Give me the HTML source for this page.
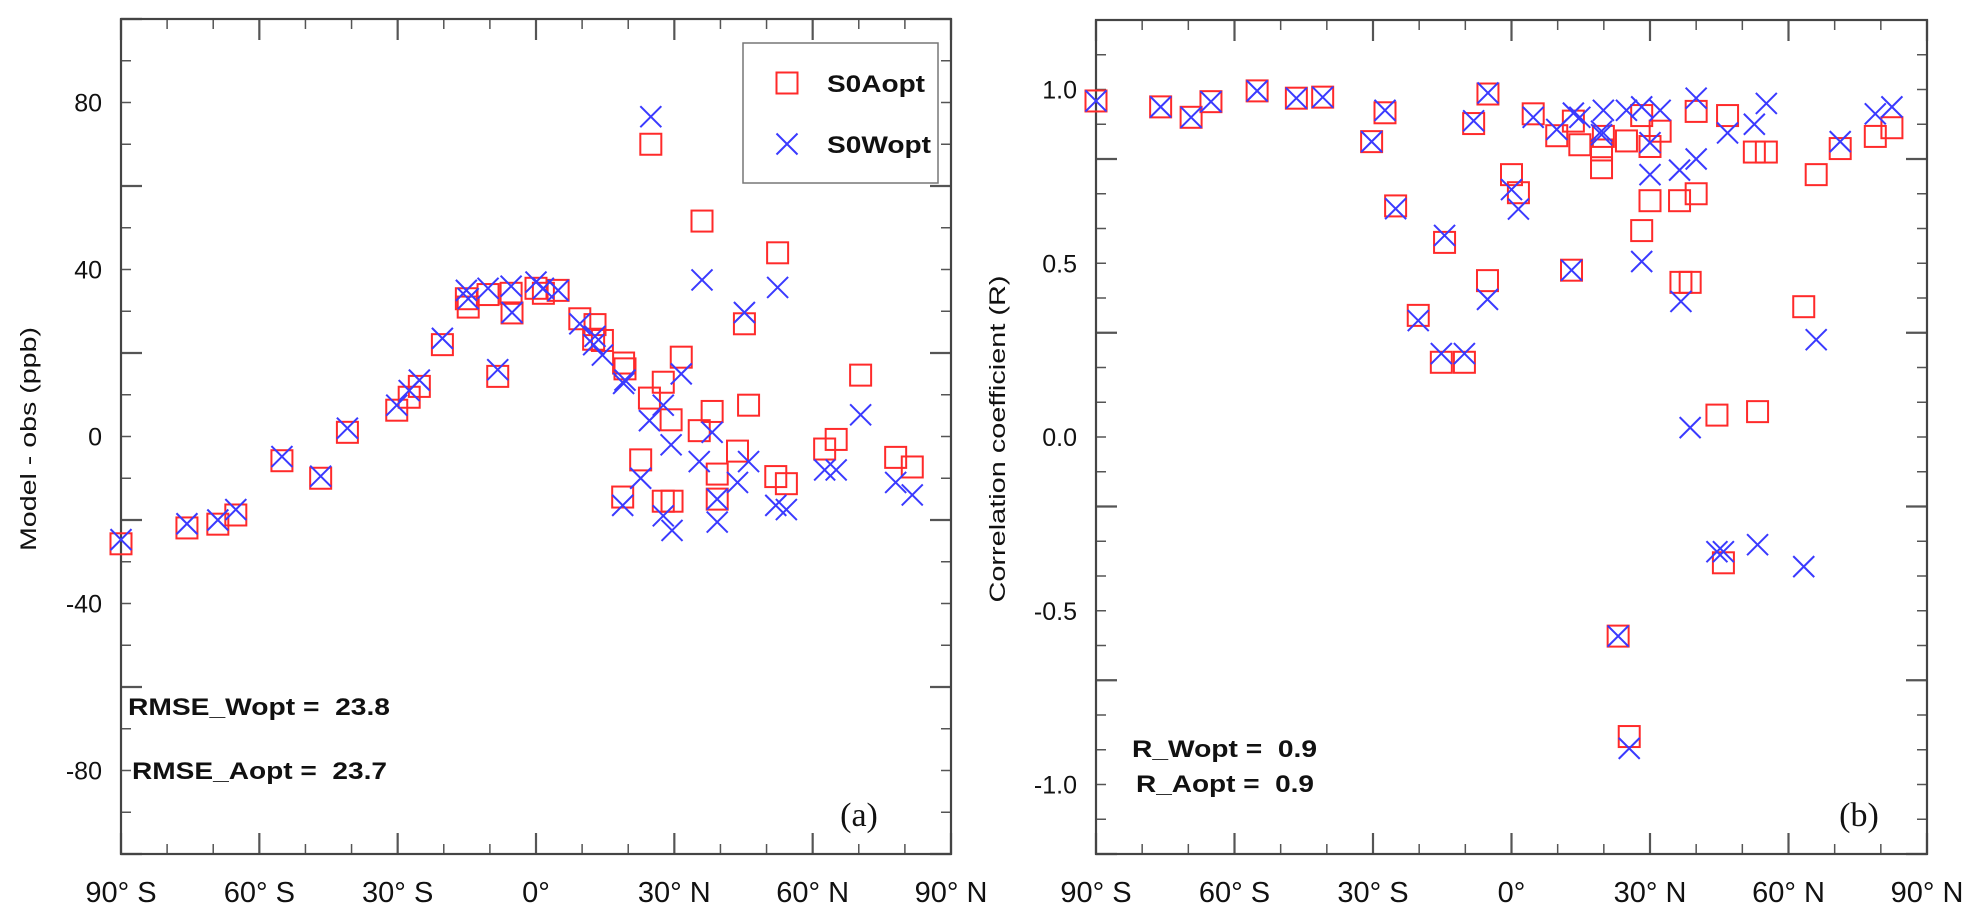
<!DOCTYPE html>
<html><head><meta charset="utf-8"><style>
html,body{margin:0;padding:0;background:#fff;}
svg{display:block;font-family:"Liberation Sans",Arial,sans-serif;}
svg text{white-space:pre;}
</style></head><body>
<svg id="chart" width="1970" height="924" viewBox="0 0 1970 924" xmlns="http://www.w3.org/2000/svg"></svg>
<script>
// Panel (a) data: latitude, S0Aopt, S0Wopt (Model - obs, ppb)
const latA = [-90,-75.7,-69,-65.1,-55.1,-46.7,-40.9,-30.2,-27.5,-25.3,-20.3,-15.1,-14.7,-10.4,-8.3,-5.4,-5.2,0,1.6,4.8,9.5,12.8,12.5,14.4,19,19.3,18.8,22.7,24.6,24.9,27.6,27.6,29.3,29.5,31.5,35.4,36,38.2,39.3,39.3,43.7,45.2,46.1,52,52.4,54.3,62.6,65.1,70.4,78,81.6];
const aoptA = [-25.7,-21.9,-21,-18.8,-5.8,-10,1,6.3,9.4,12,22,33,31,34,14.4,34.3,29.6,35.5,34.3,35,28.2,26.8,23.3,23,17.6,16.2,-14.5,-5.6,9.2,70,13,-15.5,4,-15.5,19,1.4,51.6,6,-9,-15,-3.5,27,7.5,-9.6,44,-11.3,-3,-0.7,14.7,-5,-7.3];
const woptA = [-24.7,-20.9,-20,-17.5,-4.8,-9.5,2,7.5,11,13.5,23.5,35,33,35.5,16,36,29.7,37,35.5,35,27,24,22,19.5,12.7,13.5,-16.5,-10,3.8,76.6,7.5,-19,-2,-22.5,15,-6,37.5,1,-15,-20.5,-11,29.7,-6,-16.5,35.7,-17.5,-8,-8,5.2,-11,-14];
// Panel (b) data: latitude, S0Aopt, S0Wopt (correlation R)
const latB = [-90,-76,-69.4,-65.1,-55.1,-46.6,-40.9,-30.3,-27.4,-25.1,-20.2,-14.5,-15.2,-10.2,-8.2,-5.2,-5.1,0,1.5,4.7,9.8,13.4,14.8,13,19.9,19.5,19.5,24.9,28.2,30,32.2,30,28.2,36.4,40,40,46.8,52.6,55.2,66,71.2,78.8,82.4,36.7,38.7,63.3,44.5,53.3,45.9,23.1,25.5];
const aoptB = [0.967,0.95,0.92,0.965,0.996,0.975,0.978,0.85,0.933,0.665,0.35,0.56,0.215,0.215,0.902,0.45,0.987,0.755,0.703,0.93,0.867,0.909,0.841,0.48,0.865,0.826,0.775,0.852,0.925,0.836,0.88,0.68,0.594,0.68,0.70,0.937,0.925,0.82,0.82,0.755,0.83,0.865,0.89,0.445,0.445,0.375,0.063,0.073,-0.362,-0.573,-0.862];
const woptB = [0.967,0.95,0.92,0.965,0.996,0.975,0.978,0.85,0.94,0.657,0.335,0.58,0.24,0.24,0.91,0.396,0.99,0.712,0.656,0.92,0.885,0.932,0.92,0.48,0.94,0.88,0.87,0.94,0.95,0.847,0.94,0.755,0.505,0.768,0.80,0.975,0.875,0.9,0.96,0.28,0.85,0.93,0.95,0.39,0.027,-0.373,-0.33,-0.31,-0.33,-0.573,-0.896];
const xTickLabels = ["90° S","60° S","30° S","0°","30° N","60° N","90° N"];
const yTicksA = [80,40,0,-40,-80];
const yTicksB = [1.0,0.5,0.0,-0.5,-1.0];

const NS="http://www.w3.org/2000/svg";
const svg=document.getElementById('chart');
function mk(tag,attrs,parent){const e=document.createElementNS(NS,tag);for(const k in attrs)e.setAttribute(k,attrs[k]);(parent||svg).appendChild(e);return e;}

function panel(cfg){
  const g=mk('g',{});
  
  
  const {L,R,T,B,ymin,ymax}=cfg;
  const sx=v=>L+(v+90)/180*(R-L);
  const sy=v=>B-(v-ymin)/(ymax-ymin)*(B-T);
  for(let d=-90;d<=90;d+=10){
    const maj=(d%30===0), len=maj?21:10, x=sx(d);
    const t1=mk('line',{x1:x,y1:B,x2:x,y2:B-len,stroke:'#555','stroke-width':maj?2.2:1.5},g);
    
    const t2=mk('line',{x1:x,y1:T,x2:x,y2:T+len,stroke:'#555','stroke-width':maj?2.2:1.5},g);
    
  }
  for(let i=0;;i++){
    const v=ymin+i*cfg.minor; if(v>ymax+1e-9)break;
    const r=(v-ymin)/cfg.major; const maj=Math.abs(r-Math.round(r))<1e-6;
    const len=maj?21:10, y=sy(v);
    const t1=mk('line',{x1:L,y1:y,x2:L+len,y2:y,stroke:'#555','stroke-width':maj?2.2:1.5},g);
    
    const t2=mk('line',{x1:R,y1:y,x2:R-len,y2:y,stroke:'#555','stroke-width':maj?2.2:1.5},g);
    
  }
  const fr=mk('rect',{x:L,y:T,width:R-L,height:B-T,fill:'none',stroke:'#444','stroke-width':2.2},g);
  
  xTickLabels.forEach((s,i)=>{
    const t=mk('text',{x:sx(-90+30*i),y:902,'text-anchor':'middle','font-size':29,fill:'#111'},g);
    t.textContent=s;
    
  });
  cfg.yt.forEach(v=>{
    const t=mk('text',{x:cfg.ylabX,y:sy(v)+9,'text-anchor':'end','font-size':25,fill:'#111'},g);
    t.textContent=cfg.fmt(v);
    
  });
  const yt=mk('text',{x:0,y:0,'text-anchor':'middle','font-size':22,fill:'#111',transform:`translate(${cfg.titleX},439) rotate(-90)`,textLength:cfg.titleLen,lengthAdjust:'spacingAndGlyphs'},g);
  yt.textContent=cfg.title;
  
  cfg.lat.forEach((la,i)=>{
    const x=sx(la),y=sy(cfg.a[i]);
    const s=mk('rect',{x:x-10.5,y:y-10.5,width:21,height:21,fill:'none',stroke:'#ff2a2a','stroke-width':2},g);
    
  });
  cfg.lat.forEach((la,i)=>{
    const x=sx(la),y=sy(cfg.w[i]);
    const p=mk('path',{d:`M${x-10.5},${y-10.5}L${x+10.5},${y+10.5}M${x-10.5},${y+10.5}L${x+10.5},${y-10.5}`,stroke:'#3a3aff','stroke-width':2,fill:'none'},g);
    
  });
  return g;
}
panel({name:'panel-a',L:121,R:951,T:19,B:854,ymin:-100,ymax:100,minor:10,major:40,yt:yTicksA,fmt:v=>String(v),ylabX:102,
  title:'Model - obs (ppb)',titleX:36,titleLen:224,lat:latA,a:aoptA,w:woptA});
panel({name:'panel-b',L:1096,R:1927,T:20,B:854,ymin:-1.2,ymax:1.2,minor:0.1,major:0.5,yt:yTicksB,fmt:v=>v.toFixed(1),ylabX:1077,
  title:'Correlation coefficient (R)',titleX:1005,titleLen:327,lat:latB,a:aoptB,w:woptB});

function txt(s,x,y,size,name,extra){
  const t=mk('text',Object.assign({x:x,y:y,'font-size':size,'font-weight':'bold',fill:'#111'},extra||{}));
  t.textContent=s;
  
  return t;
}
const lg=mk('rect',{x:743,y:43,width:195,height:140,fill:'#fff',stroke:'#777','stroke-width':1.5});

const ls=mk('rect',{x:776.5,y:72.5,width:21,height:21,fill:'none',stroke:'#ff2a2a','stroke-width':2});

const lx=mk('path',{d:'M776.5,133.5L797.5,154.5M776.5,154.5L797.5,133.5',stroke:'#3a3aff','stroke-width':2,fill:'none'});

txt('S0Aopt',827,92,24,'legend-s0aopt-label',{textLength:98,lengthAdjust:'spacingAndGlyphs'});
txt('S0Wopt',827,153,24,'legend-s0wopt-label',{textLength:104,lengthAdjust:'spacingAndGlyphs'});
txt('RMSE_Wopt =  23.8',128,715,24,'rmse-wopt-text',{textLength:262,lengthAdjust:'spacingAndGlyphs'});
txt('RMSE_Aopt =  23.7',132,779,24,'rmse-aopt-text',{textLength:255,lengthAdjust:'spacingAndGlyphs'});
txt('R_Wopt =  0.9',1132,757,24,'r-wopt-text',{textLength:185,lengthAdjust:'spacingAndGlyphs'});
txt('R_Aopt =  0.9',1136,792,24,'r-aopt-text',{textLength:178,lengthAdjust:'spacingAndGlyphs'});
const pa=mk('text',{x:859,y:826,'font-size':34,'font-family':'"Liberation Serif",serif',fill:'#111','text-anchor':'middle'});
pa.textContent='(a)';
const pb=mk('text',{x:1859,y:826,'font-size':34,'font-family':'"Liberation Serif",serif',fill:'#111','text-anchor':'middle'});
pb.textContent='(b)';
</script>
</body></html>
